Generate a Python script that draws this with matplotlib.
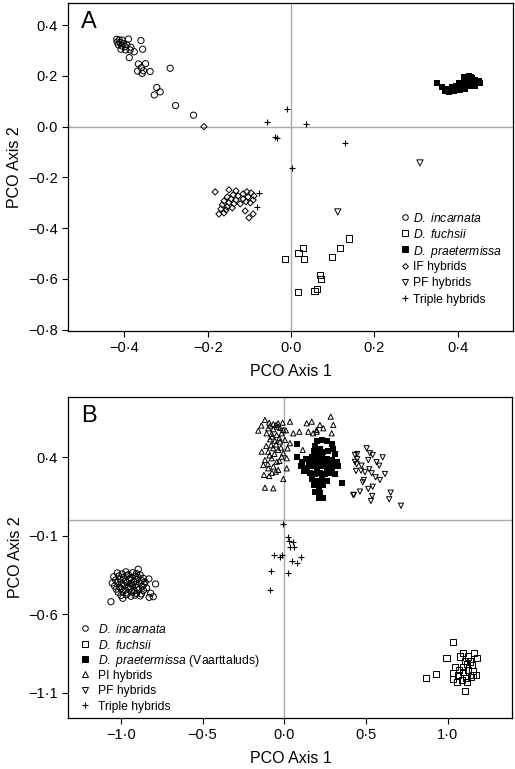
import matplotlib
matplotlib.use('Agg')
import matplotlib.pyplot as plt
from matplotlib.ticker import FuncFormatter

plt.rcParams['font.family'] = ['Liberation Sans', 'DejaVu Sans']
plt.rcParams['mathtext.fontset'] = 'custom'
plt.rcParams['mathtext.it'] = 'Liberation Sans:italic'
plt.rcParams['mathtext.rm'] = 'Liberation Sans'

# ---------------- Panel A data ----------------
a_incarnata_x = [-0.418, -0.412, -0.405, -0.417, -0.410, -0.402, -0.414, -0.406, -0.398, -0.390,
                 -0.394, -0.384, -0.408, -0.397, -0.386, -0.376, -0.388, -0.360, -0.356, -0.366,
                 -0.349, -0.359, -0.368, -0.354, -0.338, -0.357, -0.290, -0.322, -0.314, -0.328,
                 -0.277, -0.234]
a_incarnata_y = [0.344, 0.341, 0.341, 0.333, 0.331, 0.328, 0.322, 0.318, 0.315, 0.345,
                 0.322, 0.313, 0.305, 0.302, 0.302, 0.295, 0.272, 0.339, 0.305, 0.247,
                 0.248, 0.232, 0.219, 0.220, 0.217, 0.210, 0.230, 0.154, 0.137, 0.125,
                 0.083, 0.045]

a_fuchsii_x = [-0.014, 0.018, 0.028, 0.031, 0.099, 0.118, 0.138, 0.070, 0.071, 0.016, 0.056, 0.062]
a_fuchsii_y = [-0.522, -0.498, -0.479, -0.522, -0.514, -0.478, -0.441, -0.585, -0.600, -0.651, -0.646, -0.639]

a_praet_x = [0.350, 0.362, 0.369, 0.373, 0.378, 0.382, 0.387, 0.391, 0.396, 0.400, 0.405, 0.403,
             0.409, 0.414, 0.415, 0.418, 0.423, 0.424, 0.427, 0.430, 0.432, 0.436, 0.439, 0.441,
             0.445, 0.450, 0.434, 0.421, 0.412, 0.406, 0.396, 0.387, 0.427, 0.415, 0.442, 0.454,
             0.394, 0.376]
a_praet_y = [0.171, 0.158, 0.140, 0.150, 0.135, 0.145, 0.155, 0.140, 0.150, 0.160, 0.145, 0.170,
             0.155, 0.165, 0.180, 0.150, 0.170, 0.190, 0.160, 0.180, 0.195, 0.175, 0.165, 0.185,
             0.170, 0.178, 0.190, 0.185, 0.172, 0.160, 0.162, 0.142, 0.200, 0.195, 0.160, 0.170,
             0.148, 0.142]

a_if_x = [-0.182, -0.149, -0.132, -0.139, -0.153, -0.144, -0.132, -0.161, -0.149, -0.137,
          -0.165, -0.153, -0.141, -0.156, -0.173, -0.161, -0.127, -0.122, -0.168, -0.115,
          -0.106, -0.096, -0.089, -0.091, -0.098, -0.108, -0.115, -0.103, -0.110, -0.091,
          -0.101, -0.209]
a_if_y = [-0.257, -0.249, -0.253, -0.269, -0.277, -0.285, -0.289, -0.293, -0.300, -0.304,
          -0.308, -0.316, -0.320, -0.328, -0.344, -0.340, -0.273, -0.304, -0.324, -0.265,
          -0.257, -0.261, -0.273, -0.289, -0.300, -0.296, -0.285, -0.277, -0.332, -0.344,
          -0.359, 0.0]

a_pf_x = [0.112, 0.309]
a_pf_y = [-0.336, -0.143]

a_triple_x = [-0.010, -0.058, 0.036, -0.038, -0.034, 0.129, 0.001, -0.078, -0.082]
a_triple_y = [0.070, 0.020, 0.009, -0.041, -0.045, -0.065, -0.164, -0.262, -0.315]

a_labels = [r'$\mathit{D.\ incarnata}$', r'$\mathit{D.\ fuchsii}$', r'$\mathit{D.\ praetermissa}$',
            'IF hybrids', 'PF hybrids', 'Triple hybrids']

# ---------------- Panel B data ----------------
b_incarnata_x = [-0.893, -0.828, -0.787, -1.060, -0.826, -0.801, -0.988, -0.817,
                 -1.021, -0.992, -0.968, -0.953, -0.927, -0.904, -0.881,
                 -1.043, -1.012, -0.983, -0.962, -0.941, -0.912, -0.893, -0.862,
                 -1.031, -1.004, -0.972, -0.948, -0.921, -0.898, -0.873, -0.851,
                 -1.052, -1.018, -0.994, -0.963, -0.937, -0.909, -0.884, -0.858,
                 -1.038, -1.009, -0.978, -0.952, -0.928, -0.901, -0.869, -0.842,
                 -1.027, -0.998, -0.971, -0.943, -0.917, -0.889, -0.861,
                 -1.016, -0.987, -0.958, -0.932, -0.903, -0.874,
                 -0.999, -0.966, -0.938, -0.912, -0.881]
b_incarnata_y = [-0.314, -0.376, -0.408, -0.521, -0.493, -0.489, -0.499, -0.467,
                 -0.338, -0.344, -0.331, -0.349, -0.336, -0.342, -0.352,
                 -0.362, -0.357, -0.368, -0.355, -0.371, -0.359, -0.366, -0.372,
                 -0.383, -0.377, -0.389, -0.380, -0.392, -0.378, -0.386, -0.395,
                 -0.402, -0.397, -0.409, -0.398, -0.405, -0.412, -0.401, -0.409,
                 -0.421, -0.428, -0.417, -0.426, -0.419, -0.431, -0.423, -0.433,
                 -0.441, -0.436, -0.447, -0.439, -0.452, -0.443, -0.448,
                 -0.461, -0.457, -0.466, -0.459, -0.468, -0.471,
                 -0.481, -0.477, -0.486, -0.479, -0.484]

b_fuchsii_x = [1.034, 0.993, 0.926, 0.867, 1.105,
               1.095, 1.160, 1.075, 1.125, 1.180, 1.105, 1.136, 1.116, 1.147, 1.091,
               1.044, 1.070, 1.034, 1.064, 1.095, 1.125, 1.152, 1.172, 1.034, 1.058,
               1.085, 1.111, 1.140, 1.116, 1.156]
b_fuchsii_y = [-0.775, -0.877, -0.983, -1.004, -1.087,
               -0.845, -0.845, -0.870, -0.870, -0.881, -0.896, -0.902, -0.917, -0.923, -0.934,
               -0.934, -0.955, -0.976, -0.987, -0.966, -0.955, -0.960, -0.987, -1.015, -1.030,
               -1.019, -1.008, -0.998, -1.030, -0.987]

b_praet_x = [0.20, 0.23, 0.26, 0.29, 0.19, 0.30, 0.18, 0.22, 0.27, 0.31, 0.20, 0.24,
             0.08, 0.11, 0.10, 0.13, 0.15, 0.14, 0.17, 0.18, 0.17, 0.20, 0.21, 0.20,
             0.23, 0.24, 0.23, 0.26, 0.27, 0.26, 0.29, 0.30, 0.29, 0.32, 0.33,
             0.12, 0.16, 0.19, 0.22, 0.25, 0.28, 0.31,
             0.17, 0.20, 0.23, 0.26, 0.18, 0.21, 0.24, 0.19, 0.22, 0.24, 0.21,
             0.08, 0.351]
b_praet_y = [0.50, 0.51, 0.50, 0.48, 0.47, 0.45, 0.44, 0.45, 0.44, 0.42, 0.42, 0.43,
             0.40, 0.37, 0.34, 0.39, 0.36, 0.33, 0.40, 0.37, 0.34, 0.39, 0.36, 0.33,
             0.40, 0.37, 0.34, 0.39, 0.36, 0.33, 0.38, 0.35, 0.32, 0.37, 0.34,
             0.31, 0.30, 0.29, 0.30, 0.29, 0.30, 0.29,
             0.26, 0.25, 0.26, 0.25, 0.22, 0.21, 0.22, 0.18, 0.17, 0.14, 0.14,
             0.483, 0.233]

b_pi_x = [-0.159, -0.118, -0.092, -0.067, -0.037, -0.010, 0.035, -0.098, -0.067, -0.037,
          -0.006, -0.108, -0.077, -0.046, -0.016, -0.087, -0.057, -0.026, 0.004, 0.035,
          -0.138, -0.098, -0.067, -0.037, -0.006, -0.118, -0.077, -0.046, -0.016, 0.015,
          -0.128, -0.098, -0.067, -0.037, -0.124, -0.092, -0.051, 0.015, -0.006, -0.118,
          -0.067, 0.055, 0.092, 0.137, 0.168, 0.147, 0.177, 0.198, 0.218, 0.239,
          0.284, 0.300, 0.290, 0.198, 0.113,
          -0.085, -0.050, -0.025, -0.075, -0.030, -0.110, -0.080, -0.050, -0.020, -0.090,
          -0.060, -0.030, -0.100, -0.075, 0.020, 0.010, -0.140]
b_pi_y = [0.568, 0.636, 0.619, 0.610, 0.615, 0.619, 0.625, 0.583, 0.577, 0.593,
          0.572, 0.551, 0.547, 0.540, 0.551, 0.513, 0.504, 0.498, 0.509, 0.488,
          0.434, 0.434, 0.456, 0.445, 0.424, 0.381, 0.392, 0.370, 0.402, 0.392,
          0.349, 0.328, 0.339, 0.318, 0.286, 0.279, 0.307, 0.328, 0.260, 0.205,
          0.201, 0.551, 0.561, 0.615, 0.625, 0.561, 0.551, 0.572, 0.604, 0.583,
          0.657, 0.604, 0.551, 0.561, 0.445,
          0.600, 0.605, 0.585, 0.530, 0.520, 0.470, 0.475, 0.480, 0.460, 0.410,
          0.420, 0.375, 0.355, 0.300, 0.455, 0.570, 0.600]

b_pf_x = [0.504, 0.446, 0.524, 0.541, 0.602, 0.446, 0.514, 0.565, 0.443, 0.473,
          0.581, 0.439, 0.469, 0.494, 0.520, 0.535, 0.559, 0.585, 0.616, 0.487,
          0.480, 0.541, 0.514, 0.463, 0.426, 0.538, 0.530, 0.651, 0.642, 0.714,
          0.432, 0.432, 0.422]
b_pf_y = [0.456, 0.419, 0.424, 0.413, 0.398, 0.386, 0.381, 0.367, 0.354, 0.345,
          0.345, 0.311, 0.313, 0.303, 0.322, 0.297, 0.271, 0.254, 0.292, 0.254,
          0.239, 0.211, 0.197, 0.180, 0.159, 0.152, 0.120, 0.173, 0.131, 0.090,
          0.413, 0.369, 0.158]

b_triple_x = [-0.006, 0.024, 0.031, 0.055, 0.035, 0.061, -0.061, -0.026, -0.012, 0.049,
              0.080, 0.102, -0.083, 0.021, -0.086]
b_triple_y = [-0.026, -0.107, -0.132, -0.143, -0.171, -0.171, -0.223, -0.234, -0.223, -0.262,
              -0.276, -0.238, -0.325, -0.336, -0.446]

b_labels = [r'$\mathit{D.\ incarnata}$', r'$\mathit{D.\ fuchsii}$',
            r'$\mathit{D.\ praetermissa}$ (Vaarttaluds)',
            'PI hybrids', 'PF hybrids', 'Triple hybrids']

a_xticks = [-0.4, -0.2, 0.0, 0.2, 0.4]
a_yticks = [0.4, 0.2, 0.0, -0.2, -0.4, -0.6, -0.8]
b_xticks = [-1.0, -0.5, 0.0, 0.5, 1.0]
b_yticks = [0.4, -0.1, -0.6, -1.1]


def fmt(v, pos=None):
    s = f"{v:.1f}"
    if s == '-0.0':
        s = '0.0'
    if s.startswith('-'):
        s = '\u2212' + s[1:]
    return s.replace('.', '\u00b7')


fig = plt.figure(figsize=(5.15, 7.69), dpi=100)
# panel A: top 3 px, bottom 331 px
axA = fig.add_axes([0.132, 1 - 331 / 769, 0.864, 328 / 769])
# panel B: top 397 px, bottom 718 px
axB = fig.add_axes([0.1326, 1 - 718 / 769, 0.8625, 321 / 769])

open_kw = dict(facecolors='none', edgecolors='black', linewidths=0.7, zorder=3)
ms = 20


def style_axis(ax, xt, yt, xlim, ylim):
    ax.set_xlim(*xlim)
    ax.set_ylim(*ylim)
    ax.set_xticks(xt)
    ax.set_yticks(yt)
    ax.xaxis.set_major_formatter(FuncFormatter(fmt))
    ax.yaxis.set_major_formatter(FuncFormatter(fmt))
    ax.tick_params(direction='out', length=4, width=0.8, labelsize=10.5, color='black')
    for sp in ax.spines.values():
        sp.set_linewidth(0.9)
    ax.axhline(0, color='#aaaaaa', lw=1.0, zorder=1)
    ax.axvline(0, color='#aaaaaa', lw=1.0, zorder=1)
    ax.set_xlabel('PCO Axis 1', fontsize=11.5, labelpad=6)
    ax.set_ylabel('PCO Axis 2', fontsize=11.5, labelpad=4)


def draw_key(ax, markers, labels, xm, xt, y0, dy, fs=8.7):
    for i, ((m, filled), lab) in enumerate(zip(markers, labels)):
        y = y0 - i * dy
        if m == '+':
            ax.plot([xm], [y], ls='none', marker='+', color='black', ms=5, mew=0.8,
                    transform=ax.transAxes, clip_on=False)
        else:
            ax.plot([xm], [y], ls='none', marker=m, ms=4 if m != 'D' else 3,
                    mfc='black' if filled else 'none', mec='black', mew=0.7,
                    transform=ax.transAxes, clip_on=False)
        ax.text(xt, y, lab, transform=ax.transAxes, fontsize=fs,
                ha='left', va='center_baseline')


# Panel A
style_axis(axA, a_xticks, a_yticks, (-0.535, 0.532), (-0.805, 0.487))
axA.scatter(a_incarnata_x, a_incarnata_y, marker='o', s=ms, **open_kw)
axA.scatter(a_fuchsii_x, a_fuchsii_y, marker='s', s=ms, **open_kw)
axA.scatter(a_praet_x, a_praet_y, marker='s', s=ms, color='black', linewidths=0, zorder=3)
axA.scatter(a_if_x, a_if_y, marker='D', s=10, **open_kw)
axA.scatter(a_pf_x, a_pf_y, marker='v', s=ms, **open_kw)
axA.scatter(a_triple_x, a_triple_y, marker='+', s=22, color='black', linewidths=0.8, zorder=3)
axA.text(0.03, 0.975, 'A', transform=axA.transAxes, fontsize=17, va='top', ha='left')
draw_key(axA, [('o', False), ('s', False), ('s', True), ('D', False), ('v', False), ('+', False)],
         a_labels, xm=0.757, xt=0.776, y0=0.348, dy=0.0495)

# Panel B
style_axis(axB, b_xticks, b_yticks, (-1.321, 1.396), (-1.261, 0.782))
axB.scatter(b_incarnata_x, b_incarnata_y, marker='o', s=ms, **open_kw)
axB.scatter(b_fuchsii_x, b_fuchsii_y, marker='s', s=ms, **open_kw)
axB.scatter(b_pi_x, b_pi_y, marker='^', s=14, **open_kw)
axB.scatter(b_pf_x, b_pf_y, marker='v', s=14, **open_kw)
axB.scatter(b_praet_x, b_praet_y, marker='s', s=24, color='black', linewidths=0, zorder=4)
axB.scatter(b_triple_x, b_triple_y, marker='+', s=22, color='black', linewidths=0.8, zorder=3)
axB.text(0.03, 0.975, 'B', transform=axB.transAxes, fontsize=17, va='top', ha='left')
draw_key(axB, [('o', False), ('s', False), ('s', True), ('^', False), ('v', False), ('+', False)],
         b_labels, xm=0.038, xt=0.066, y0=0.280, dy=0.048)

fig.savefig('out.png', dpi=100)
